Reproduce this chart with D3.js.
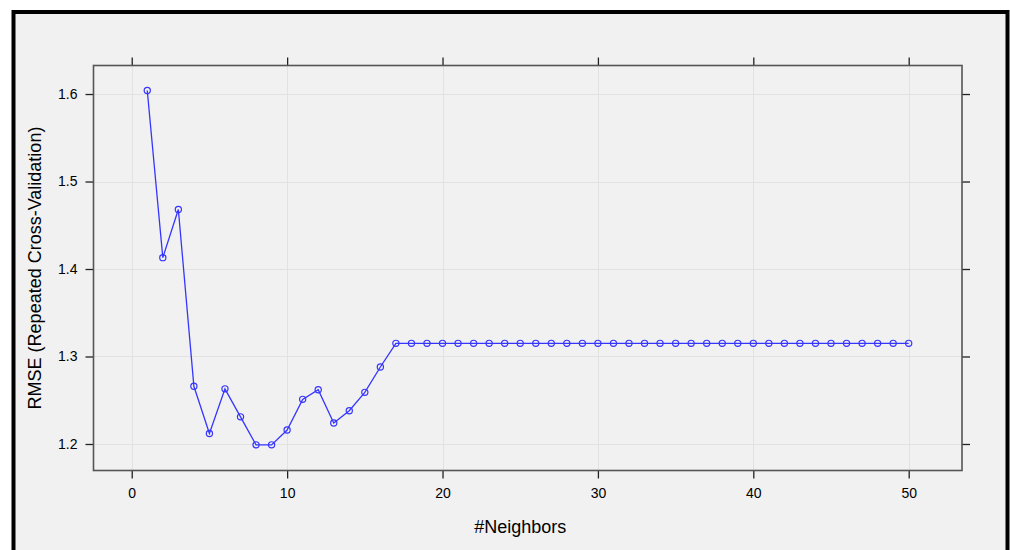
<!DOCTYPE html>
<html lang="en">
<head>
    <meta charset="UTF-8">
    <title>RMSE vs Neighbors</title>
    <script src="https://d3js.org/d3.v7.min.js"></script>
    <style>
        body {
            margin: 0;
            background: #ffffff;
            font-family: Arial, 'Liberation Sans', sans-serif;
        }
        #chart svg {
            display: block;
        }
    </style>
</head>
<body>
    <div id="chart"></div>

    <script>
        // Data
        const neighbors = d3.range(1, 51);
        const rmse = [
            1.604, 1.413, 1.468, 1.266, 1.212, 1.263, 1.231, 1.199, 1.199, 1.216,
            1.251, 1.262, 1.224, 1.238, 1.259, 1.288, 1.315, 1.315, 1.315, 1.315,
            1.315, 1.315, 1.315, 1.315, 1.315, 1.315, 1.315, 1.315, 1.315, 1.315,
            1.315, 1.315, 1.315, 1.315, 1.315, 1.315, 1.315, 1.315, 1.315, 1.315,
            1.315, 1.315, 1.315, 1.315, 1.315, 1.315, 1.315, 1.315, 1.315, 1.315
        ];
        const xTicks = [0, 10, 20, 30, 40, 50];
        const yTicks = [1.2, 1.3, 1.4, 1.5, 1.6];

        const width = 1010, height = 550;
        const panel = { left: 93.5, top: 65.5, right: 962, bottom: 470.5 };
        const lineColor = '#3535ff';

        const svg = d3.select('#chart')
            .append('svg')
            .attr('width', width)
            .attr('height', height);

        // outer framed background
        svg.append('rect')
            .attr('x', 13.5).attr('y', 12)
            .attr('width', 994).attr('height', 560)
            .attr('fill', '#f1f1f1')
            .attr('stroke', '#000')
            .attr('stroke-width', 4);

        const x = d3.scaleLinear().domain([-2.46, 53.43]).range([panel.left, panel.right]);
        const y = d3.scaleLinear().domain([1.1697, 1.6326]).range([panel.bottom, panel.top]);

        // grid
        const grid = svg.append('g').attr('stroke', '#e2e2e2').attr('stroke-width', 1);
        grid.selectAll('.gx').data(xTicks).enter().append('line')
            .attr('x1', d => Math.round(x(d)) + 0.5).attr('x2', d => Math.round(x(d)) + 0.5)
            .attr('y1', panel.top).attr('y2', panel.bottom);
        grid.selectAll('.gy').data(yTicks).enter().append('line')
            .attr('y1', d => Math.round(y(d)) + 0.5).attr('y2', d => Math.round(y(d)) + 0.5)
            .attr('x1', panel.left).attr('x2', panel.right);

        // axes (ticks outside on all four sides, labels only bottom/left)
        const tickStyle = g => {
            g.select('.domain').remove();
            g.selectAll('.tick line').attr('stroke', '#222').attr('stroke-width', 1.3);
            g.selectAll('.tick text')
                .attr('fill', '#000')
                .style('font-family', 'Arial, "Liberation Sans", sans-serif')
                .style('font-size', '14px');
        };

        svg.append('g')
            .attr('transform', `translate(0,${panel.bottom})`)
            .call(d3.axisBottom(x).tickValues(xTicks).tickSize(8).tickPadding(10).tickFormat(d3.format('d')))
            .call(tickStyle);
        svg.append('g')
            .attr('transform', `translate(0,${panel.top})`)
            .call(d3.axisTop(x).tickValues(xTicks).tickSize(8).tickFormat(''))
            .call(tickStyle);
        svg.append('g')
            .attr('transform', `translate(${panel.left},0)`)
            .call(d3.axisLeft(y).tickValues(yTicks).tickSize(8).tickPadding(8).tickFormat(d3.format('.1f')))
            .call(tickStyle);
        svg.append('g')
            .attr('transform', `translate(${panel.right},0)`)
            .call(d3.axisRight(y).tickValues(yTicks).tickSize(8).tickFormat(''))
            .call(tickStyle);

        // panel frame
        svg.append('rect')
            .attr('x', panel.left).attr('y', panel.top)
            .attr('width', panel.right - panel.left)
            .attr('height', panel.bottom - panel.top)
            .attr('fill', 'none')
            .attr('stroke', '#555')
            .attr('stroke-width', 1.6);

        // series
        const pts = neighbors.map((k, i) => [k, rmse[i]]);
        svg.append('path')
            .datum(pts)
            .attr('fill', 'none')
            .attr('stroke', lineColor)
            .attr('stroke-width', 1.3)
            .attr('d', d3.line().x(d => x(d[0])).y(d => y(d[1])));

        svg.append('g').selectAll('circle')
            .data(pts)
            .enter().append('circle')
            .attr('cx', d => x(d[0]))
            .attr('cy', d => y(d[1]))
            .attr('r', 3.1)
            .attr('fill', 'none')
            .attr('stroke', lineColor)
            .attr('stroke-width', 1.2);

        // axis titles
        svg.append('text')
            .attr('x', (x(0) + x(50)) / 2)
            .attr('y', 533)
            .attr('text-anchor', 'middle')
            .style('font-size', '18px')
            .attr('fill', '#000')
            .text('#Neighbors');

        svg.append('text')
            .attr('transform', `translate(41,${(panel.top + panel.bottom) / 2}) rotate(-90)`)
            .attr('text-anchor', 'middle')
            .style('font-size', '18px')
            .attr('fill', '#000')
            .text('RMSE (Repeated Cross-Validation)');
    </script>
</body>
</html>
